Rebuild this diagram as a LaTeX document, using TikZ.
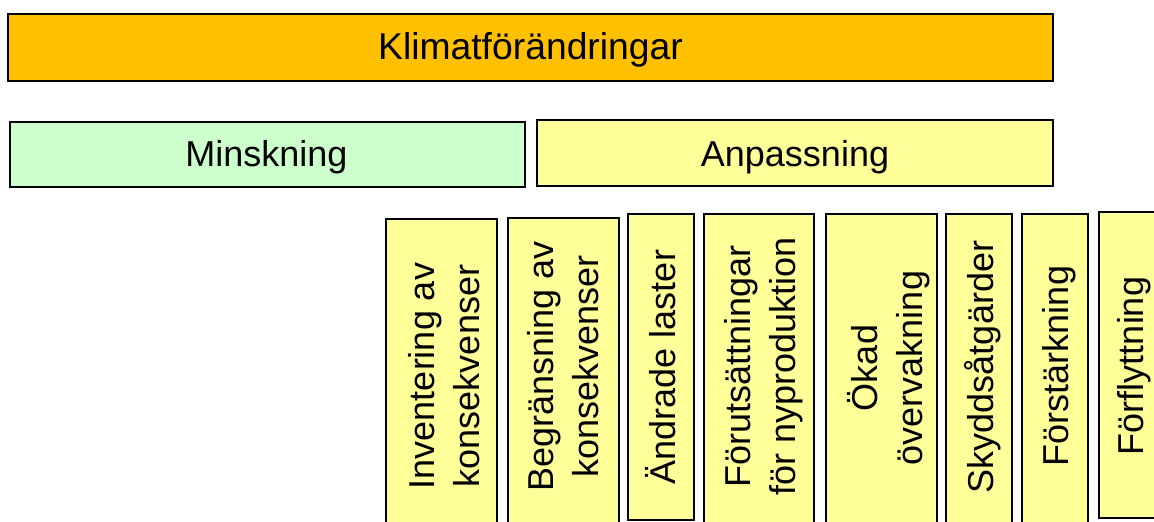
\documentclass[tikz,border=0pt]{standalone}
\usepackage{fontspec}
\setmainfont{Liberation Sans}
\definecolor{orangefill}{HTML}{FFC000}
\definecolor{greenfill}{HTML}{CCFFCC}
\definecolor{yellowfill}{HTML}{FFFF99}
\tikzset{
  box/.style={draw=black, line width=2.2pt, rectangle, inner sep=0pt, outer sep=0pt},
  hlabel/.style={anchor=base, inner sep=0pt, font=\fontsize{36}{45}\selectfont},
  vlabel/.style={anchor=base, rotate=90, inner sep=0pt, font=\fontsize{36}{45}\selectfont},
}
\newcommand{\twolines}[2]{\begin{tabular}[b]{@{}c@{}}#1\\#2\end{tabular}}
\begin{document}
\begin{tikzpicture}[x=1pt,y=1pt]
\useasboundingbox (0,0) rectangle (1154,522);
% top boxes
\node[box, fill=orangefill, minimum width=1045.3pt, minimum height=66.7pt] (klim) at (530.7,474.6) {};
\node[box, fill=greenfill, minimum width=515pt, minimum height=65pt] (mins) at (267.5,367.8) {};
\node[box, fill=yellowfill, minimum width=516pt, minimum height=65.8pt] (anp) at (795.3,369.1) {};
\node[hlabel, font=\fontsize{37.3}{45}\selectfont] (klimt) at (530.5,462) {Klimatförändringar};
\node[hlabel] (minst) at (266.5,355) {Minskning};
\node[hlabel] (anpt) at (795,355.5) {Anpassning};
% vertical boxes
\node[box, fill=yellowfill, minimum width=111pt, minimum height=310.7pt] (inv) at (441.2,147.35) {};
\node[box, fill=yellowfill, minimum width=111pt, minimum height=312.3pt] (beg) at (563.2,148.15) {};
\node[box, fill=yellowfill, minimum width=66pt, minimum height=306pt] (andr) at (661.3,155) {};
\node[box, fill=yellowfill, minimum width=110.3pt, minimum height=316pt] (foru) at (759.15,150) {};
\node[box, fill=yellowfill, minimum width=111pt, minimum height=316pt] (okad) at (881.2,150) {};
\node[box, fill=yellowfill, minimum width=66.3pt, minimum height=316pt] (skyd) at (979.15,150) {};
\node[box, fill=yellowfill, minimum width=66.6pt, minimum height=316pt] (fors) at (1055,150) {};
\node[box, fill=yellowfill, minimum width=66pt, minimum height=306pt] (forf) at (1132,157) {};
% vertical labels
\node[vlabel] (invt) at (479,146) {\twolines{Inventering av}{konsekvenser}};
\node[vlabel] (begt) at (598,155.5) {\twolines{Begränsning av}{konsekvenser}};
\node[vlabel] (andrt) at (675,155) {Ändrade laster};
\node[vlabel] (forut) at (795,155.5) {\twolines{Förutsättningar}{för nyproduktion}};
\node[vlabel] (okadt) at (922,154) {\twolines{Ökad}{övervakning}};
\node[vlabel] (skydt) at (993,155) {Skyddsåtgärder};
\node[vlabel] (forst) at (1068,156) {Förstärkning};
\node[vlabel] (forft) at (1143,156) {Förflyttning};
\end{tikzpicture}
\end{document}
